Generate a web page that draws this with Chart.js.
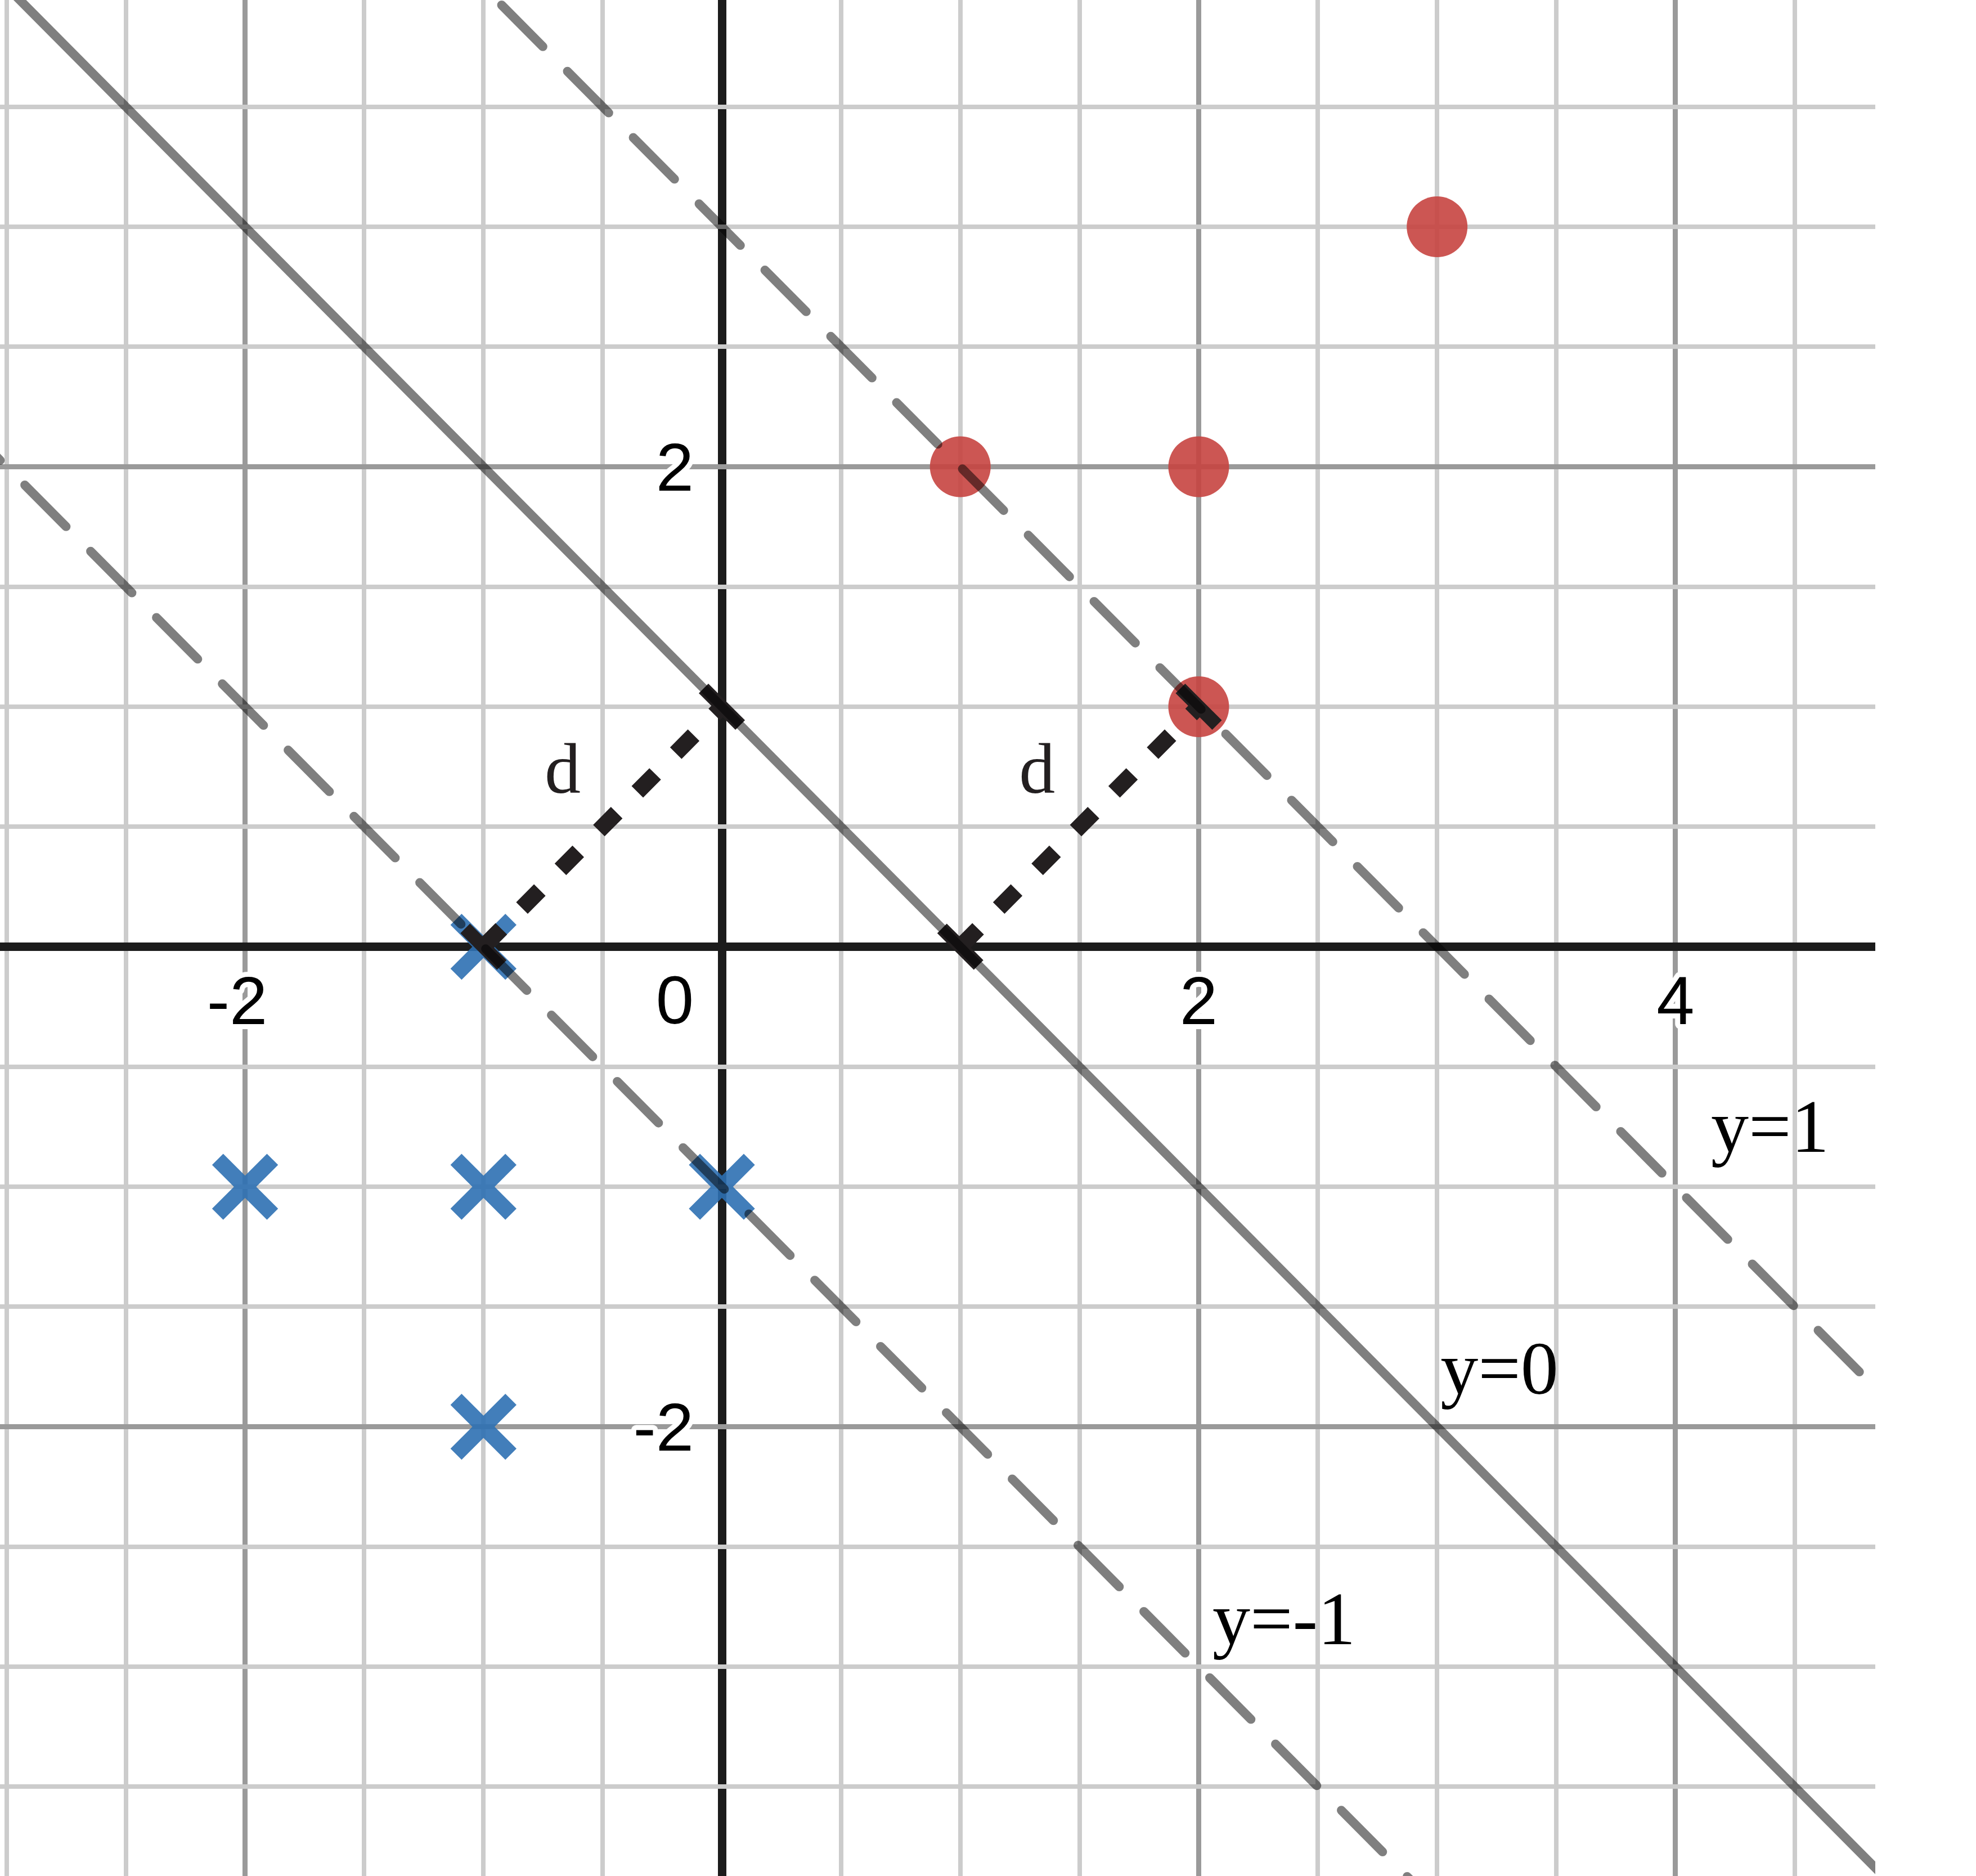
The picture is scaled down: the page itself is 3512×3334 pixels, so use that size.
<!DOCTYPE html>
<html>
<head>
<meta charset="utf-8">
<script src="https://cdn.jsdelivr.net/npm/chart.js@4.4.1/dist/chart.umd.min.js"></script>
<style>
  html, body { margin: 0; padding: 0; background: #ffffff; }
  #wrap { width: 3512px; height: 3334px; }
</style>
</head>
<body>
<div id="wrap"><canvas id="c" width="3512" height="3334"></canvas></div>
<script>
// ---- axis ranges (data units) ----
const xRange = [-3.028, 4.838];
const yRange = [-3.872, 3.945];
const gridStep = 0.5;
const majorStep = 2;

// ---- tick labels ----
const xTickValues = [-2, 2, 4];
const xTickLabels = ['-2', '2', '4'];
const yTickValues = [2, -2];
const yTickLabels = ['2', '-2'];
const originLabel = '0';

// ---- classes ----
const positiveX = [1, 2, 2, 3];
const positiveY = [2, 2, 1, 3];
const negativeX = [-1, -2, -1, 0, -1];
const negativeY = [0, -1, -1, -1, -2];

// ---- decision lines (end points) ----
const boundaryX = [-3.2, 5.0];
const boundaryY = [4.2, -4.0];
const marginPlusX = [-1.2, 5.0];
const marginPlusY = [4.2, -2.0];
const marginMinusX = [-3.2, 3.0];
const marginMinusY = [2.2, -4.0];

// ---- distance segments ----
const dist1X = [-1, 0];
const dist1Y = [0, 1];
const dist2X = [1, 2];
const dist2Y = [0, 1];

// ---- text annotations ----
const noteTexts = ['d', 'd', 'y=1', 'y=0', 'y=-1'];
const noteX = [-0.668, 1.322, 4.149, 3.014, 2.058];
const noteY = [0.641, 0.641, -0.854, -1.862, -2.906];
const noteAlign = ['center', 'center', 'left', 'left', 'left'];

const pts = (xs, ys) => xs.map((x, i) => ({ x: x, y: ys[i] }));

const GRAY = 'rgba(0,0,0,0.5)';
const DARK = '#231f20';

const labelPlugin = {
  id: 'desmosLabels',
  beforeDatasetsDraw(chart) {
    const { ctx, scales } = chart;
    const xs = scales.x, ys = scales.y;
    const x0 = xs.getPixelForValue(0);
    const y0 = ys.getPixelForValue(0);
    ctx.save();
    ctx.font = '121px "Liberation Sans", Arial, sans-serif';
    ctx.textBaseline = 'alphabetic';
    ctx.lineJoin = 'round';
    ctx.lineWidth = 18;
    ctx.strokeStyle = '#ffffff';
    ctx.fillStyle = '#000000';
    const draw = (t, px, py) => { ctx.strokeText(t, px, py); ctx.fillText(t, px, py); };
    ctx.textAlign = 'center';
    xTickValues.forEach((v, i) => draw(xTickLabels[i], xs.getPixelForValue(v) - (xTickLabels[i].startsWith('-') ? 14 : 0), y0 + 137));
    ctx.textAlign = 'right';
    yTickValues.forEach((v, i) => draw(yTickLabels[i], x0 - 50, ys.getPixelForValue(v) + 42));
    draw(originLabel, x0 - 50, y0 + 136);
    ctx.restore();
  },
  afterDatasetsDraw(chart) {
    const { ctx, scales } = chart;
    ctx.save();
    ctx.textBaseline = 'alphabetic';
    noteTexts.forEach((t, i) => {
      ctx.font = (t === 'd' ? '128px' : '134px') + ' "Liberation Serif", "Times New Roman", serif';
      ctx.fillStyle = t === 'd' ? DARK : '#000000';
      ctx.textAlign = noteAlign[i];
      ctx.fillText(t, scales.x.getPixelForValue(noteX[i]), scales.y.getPixelForValue(noteY[i]));
    });
    ctx.restore();
  }
};

function gridColor(ctx) {
  const v = ctx.tick ? ctx.tick.value : NaN;
  if (Math.abs(v * 2 - Math.round(v * 2)) > 1e-6) return 'rgba(0,0,0,0)';
  if (Math.abs(v) < 1e-9) return '#1c1c1c';
  if (Math.abs(v / majorStep - Math.round(v / majorStep)) < 1e-9) return '#9a9a9a';
  return '#cccccc';
}
function gridWidth(ctx) {
  const v = ctx.tick ? ctx.tick.value : NaN;
  if (Math.abs(v) < 1e-9) return 15;
  if (Math.abs(v / majorStep - Math.round(v / majorStep)) < 1e-9) return 9;
  return 8;
}

const lineDs = (data, dash, width) => ({
  type: 'scatter', data: data, showLine: true, pointRadius: 0, borderColor: GRAY,
  borderWidth: width, borderDash: dash, borderCapStyle: 'round', fill: false, clip: 0
});

const distDs = (data) => ({
  type: 'scatter', data: data, showLine: true, borderColor: DARK, borderWidth: 29,
  borderDash: [45, 52], borderCapStyle: 'butt', fill: false, clip: 0,
  pointStyle: 'line', rotation: 45, pointRadius: 46, pointBorderWidth: 24,
  pointBorderColor: DARK, pointBackgroundColor: DARK, pointHoverRadius: 46
});

new Chart(document.getElementById('c'), {
  type: 'scatter',
  data: {
    datasets: [
      lineDs(pts(boundaryX, boundaryY), [], 16),
      lineDs(pts(marginPlusX, marginPlusY), [104, 62], 16),
      lineDs(pts(marginMinusX, marginMinusY), [104, 62], 16),
      distDs(pts(dist1X, dist1Y)),
      distDs(pts(dist2X, dist2Y)),
      {
        data: pts(negativeX, negativeY), pointStyle: 'crossRot', pointRadius: 69,
        pointHoverRadius: 69, borderWidth: 28, pointBorderColor: 'rgba(45,112,179,0.9)',
        borderColor: 'rgba(45,112,179,0.9)', backgroundColor: 'rgba(45,112,179,0.9)'
      },
      {
        data: pts(positiveX, positiveY), pointStyle: 'circle', pointRadius: 54,
        pointHoverRadius: 54, borderWidth: 0, backgroundColor: 'rgba(199,68,64,0.9)',
        pointBackgroundColor: 'rgba(199,68,64,0.9)'
      }
    ]
  },
  options: {
    responsive: false,
    animation: false,
    devicePixelRatio: 1,
    layout: { autoPadding: false, padding: { left: 0, top: 0, right: 179, bottom: 0 } },
    plugins: { legend: { display: false }, tooltip: { enabled: false } },
    events: [],
    scales: {
      x: {
        type: 'linear', min: xRange[0], max: xRange[1],
        afterFit(s) { s.height = 0; },
        ticks: { display: false, stepSize: gridStep, includeBounds: false },
        grid: { drawTicks: false, color: gridColor, lineWidth: gridWidth },
        border: { display: false }
      },
      y: {
        type: 'linear', min: yRange[0], max: yRange[1],
        afterFit(s) { s.width = 0; },
        ticks: { display: false, stepSize: gridStep, includeBounds: false },
        grid: { drawTicks: false, color: gridColor, lineWidth: gridWidth },
        border: { display: false }
      }
    }
  },
  plugins: [labelPlugin]
});
</script>
</body>
</html>
